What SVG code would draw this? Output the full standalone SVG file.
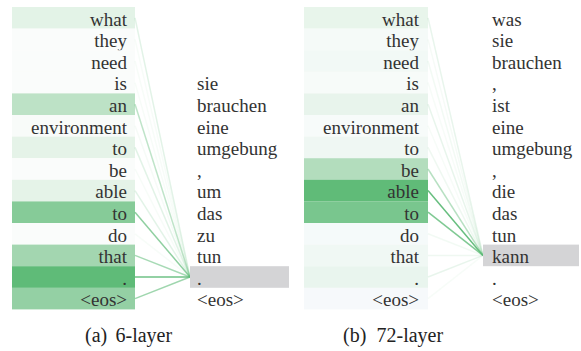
<svg xmlns="http://www.w3.org/2000/svg" width="581" height="351" viewBox="0 0 581 351">
<style>
text{font-family:'Liberation Serif','Times New Roman','DejaVu Serif',serif;font-size:19px;fill:#333}
.src{text-anchor:end}
.cap{font-size:20px;fill:#222}
.lnk{stroke:#5fbb78;stroke-width:1.5;fill:none}
.hl{fill:#d4d4d6}
</style>
<rect width="581" height="351" fill="#fff"/>
<g id="panel-a" font-family="Liberation Serif, Times New Roman, DejaVu Serif, serif">
<g id="a-src">
<g id="a-s0"><rect x="12" y="7" width="123" height="21.7" fill="#e3f3e7"/><text class="src" x="127" y="25.5">what</text></g>
<g id="a-s1"><rect x="12" y="28.6" width="123" height="21.7" fill="#fafcfb"/><text class="src" x="127" y="47.1">they</text></g>
<g id="a-s2"><rect x="12" y="50.2" width="123" height="21.7" fill="#fafcfb"/><text class="src" x="127" y="68.7">need</text></g>
<g id="a-s3"><rect x="12" y="71.8" width="123" height="21.7" fill="#fafcfb"/><text class="src" x="127" y="90.3">is</text></g>
<g id="a-s4"><rect x="12" y="93.4" width="123" height="21.7" fill="#bde2c6"/><text class="src" x="127" y="111.9">an</text></g>
<g id="a-s5"><rect x="12" y="115" width="123" height="21.7" fill="#f8fbf9"/><text class="src" x="127" y="133.5">environment</text></g>
<g id="a-s6"><rect x="12" y="136.6" width="123" height="21.7" fill="#e5f3e8"/><text class="src" x="127" y="155.1">to</text></g>
<g id="a-s7"><rect x="12" y="158.2" width="123" height="21.7" fill="#fafcfb"/><text class="src" x="127" y="176.7">be</text></g>
<g id="a-s8"><rect x="12" y="179.8" width="123" height="21.7" fill="#e5f3e8"/><text class="src" x="127" y="198.3">able</text></g>
<g id="a-s9"><rect x="12" y="201.4" width="123" height="21.7" fill="#86cb98"/><text class="src" x="127" y="219.9">to</text></g>
<g id="a-s10"><rect x="12" y="223" width="123" height="21.7" fill="#fafcfb"/><text class="src" x="127" y="241.5">do</text></g>
<g id="a-s11"><rect x="12" y="244.6" width="123" height="21.7" fill="#a3d6b0"/><text class="src" x="127" y="263.1">that</text></g>
<g id="a-s12"><rect x="12" y="266.2" width="123" height="21.7" fill="#5fbb78"/><text class="src" x="127" y="284.7">.</text></g>
<g id="a-s13"><rect x="12" y="287.8" width="123" height="21.6" fill="#94d0a4"/><text class="src" x="127" y="306.3">&lt;eos&gt;</text></g>
</g>
<g id="a-connectors">
<line class="lnk" x1="135" y1="17.8" x2="190" y2="277" stroke-opacity="0.18"/>
<line class="lnk" x1="135" y1="39.4" x2="190" y2="277" stroke-opacity="0.05"/>
<line class="lnk" x1="135" y1="61" x2="190" y2="277" stroke-opacity="0.05"/>
<line class="lnk" x1="135" y1="82.6" x2="190" y2="277" stroke-opacity="0.05"/>
<line class="lnk" x1="135" y1="104.2" x2="190" y2="277" stroke-opacity="0.4"/>
<line class="lnk" x1="135" y1="125.8" x2="190" y2="277" stroke-opacity="0.06"/>
<line class="lnk" x1="135" y1="147.4" x2="190" y2="277" stroke-opacity="0.18"/>
<line class="lnk" x1="135" y1="169" x2="190" y2="277" stroke-opacity="0.05"/>
<line class="lnk" x1="135" y1="190.6" x2="190" y2="277" stroke-opacity="0.18"/>
<line class="lnk" x1="135" y1="212.2" x2="190" y2="277" stroke-opacity="0.7"/>
<line class="lnk" x1="135" y1="233.8" x2="190" y2="277" stroke-opacity="0.05"/>
<line class="lnk" x1="135" y1="255.4" x2="190" y2="277" stroke-opacity="0.55"/>
<line class="lnk" x1="135" y1="277" x2="190" y2="277" stroke-opacity="0.9"/>
<line class="lnk" x1="135" y1="298.6" x2="190" y2="277" stroke-opacity="0.6"/>
</g>
<g id="a-tgt">
<rect class="hl" x="190" y="266.2" width="99" height="21.6"/>
<text x="197" y="90.3">sie</text>
<text x="197" y="111.9">brauchen</text>
<text x="197" y="133.5">eine</text>
<text x="197" y="155.1">umgebung</text>
<text x="197" y="176.7">,</text>
<text x="197" y="198.3">um</text>
<text x="197" y="219.9">das</text>
<text x="197" y="241.5">zu</text>
<text x="197" y="263.1">tun</text>
<text x="197" y="284.7">.</text>
<text x="197" y="306.3">&lt;eos&gt;</text>
</g>
<text class="cap" x="85" y="342">(a)<tspan x="115.5">6-layer</tspan></text>
</g>
<g id="panel-b" font-family="Liberation Serif, Times New Roman, DejaVu Serif, serif">
<g id="b-src">
<g id="b-s0"><rect x="304" y="7" width="124" height="21.7" fill="#e8f5eb"/><text class="src" x="419" y="25.5">what</text></g>
<g id="b-s1"><rect x="304" y="28.6" width="124" height="21.7" fill="#f5faf8"/><text class="src" x="419" y="47.1">they</text></g>
<g id="b-s2"><rect x="304" y="50.2" width="124" height="21.7" fill="#f2f9f6"/><text class="src" x="419" y="68.7">need</text></g>
<g id="b-s3"><rect x="304" y="71.8" width="124" height="21.7" fill="#f7fbf9"/><text class="src" x="419" y="90.3">is</text></g>
<g id="b-s4"><rect x="304" y="93.4" width="124" height="21.7" fill="#e8f4ec"/><text class="src" x="419" y="111.9">an</text></g>
<g id="b-s5"><rect x="304" y="115" width="124" height="21.7" fill="#f7fbfa"/><text class="src" x="419" y="133.5">environment</text></g>
<g id="b-s6"><rect x="304" y="136.6" width="124" height="21.7" fill="#eff7f3"/><text class="src" x="419" y="155.1">to</text></g>
<g id="b-s7"><rect x="304" y="158.2" width="124" height="21.7" fill="#b3ddbd"/><text class="src" x="419" y="176.7">be</text></g>
<g id="b-s8"><rect x="304" y="179.8" width="124" height="21.7" fill="#60bb78"/><text class="src" x="419" y="198.3">able</text></g>
<g id="b-s9"><rect x="304" y="201.4" width="124" height="21.7" fill="#79c68e"/><text class="src" x="419" y="219.9">to</text></g>
<g id="b-s10"><rect x="304" y="223" width="124" height="21.7" fill="#f5fafa"/><text class="src" x="419" y="241.5">do</text></g>
<g id="b-s11"><rect x="304" y="244.6" width="124" height="21.7" fill="#f0f8f4"/><text class="src" x="419" y="263.1">that</text></g>
<g id="b-s12"><rect x="304" y="266.2" width="124" height="21.7" fill="#e9f5ee"/><text class="src" x="419" y="284.7">.</text></g>
<g id="b-s13"><rect x="304" y="287.8" width="124" height="21.6" fill="#f6f9fb"/><text class="src" x="419" y="306.3">&lt;eos&gt;</text></g>
</g>
<g id="b-connectors">
<line class="lnk" x1="428" y1="17.8" x2="483" y2="255.4" stroke-opacity="0.14"/>
<line class="lnk" x1="428" y1="39.4" x2="483" y2="255.4" stroke-opacity="0.06"/>
<line class="lnk" x1="428" y1="61" x2="483" y2="255.4" stroke-opacity="0.08"/>
<line class="lnk" x1="428" y1="82.6" x2="483" y2="255.4" stroke-opacity="0.05"/>
<line class="lnk" x1="428" y1="104.2" x2="483" y2="255.4" stroke-opacity="0.14"/>
<line class="lnk" x1="428" y1="125.8" x2="483" y2="255.4" stroke-opacity="0.05"/>
<line class="lnk" x1="428" y1="147.4" x2="483" y2="255.4" stroke-opacity="0.1"/>
<line class="lnk" x1="428" y1="169" x2="483" y2="255.4" stroke-opacity="0.45"/>
<line class="lnk" x1="428" y1="190.6" x2="483" y2="255.4" stroke-opacity="0.95"/>
<line class="lnk" x1="428" y1="212.2" x2="483" y2="255.4" stroke-opacity="0.8"/>
<line class="lnk" x1="428" y1="233.8" x2="483" y2="255.4" stroke-opacity="0.08"/>
<line class="lnk" x1="428" y1="255.4" x2="483" y2="255.4" stroke-opacity="0.1"/>
<line class="lnk" x1="428" y1="277" x2="483" y2="255.4" stroke-opacity="0.14"/>
<line class="lnk" x1="428" y1="298.6" x2="483" y2="255.4" stroke-opacity="0.05"/>
</g>
<g id="b-tgt">
<rect class="hl" x="483" y="244.6" width="96" height="21.6"/>
<text x="492" y="25.5">was</text>
<text x="492" y="47.1">sie</text>
<text x="492" y="68.7">brauchen</text>
<text x="492" y="90.3">,</text>
<text x="492" y="111.9">ist</text>
<text x="492" y="133.5">eine</text>
<text x="492" y="155.1">umgebung</text>
<text x="492" y="176.7">,</text>
<text x="492" y="198.3">die</text>
<text x="492" y="219.9">das</text>
<text x="492" y="241.5">tun</text>
<text x="492" y="263.1">kann</text>
<text x="492" y="284.7">.</text>
<text x="492" y="306.3">&lt;eos&gt;</text>
</g>
<text class="cap" x="343" y="342">(b)<tspan x="376.5">72-layer</tspan></text>
</g>
</svg>
